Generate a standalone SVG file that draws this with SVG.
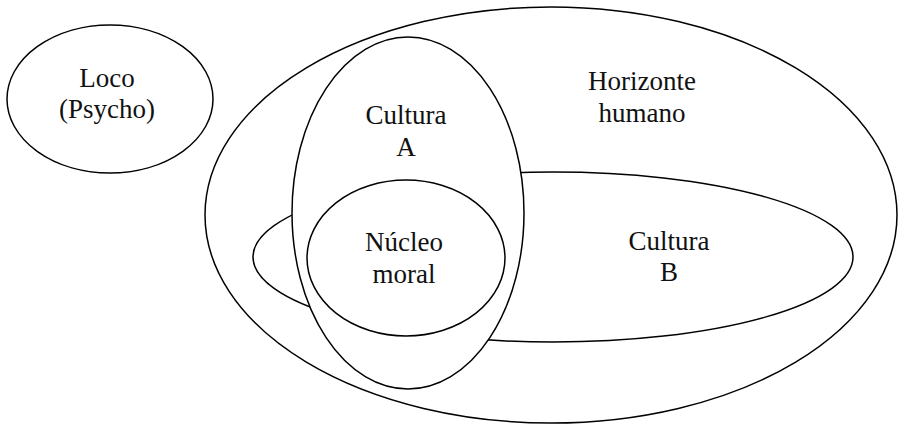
<svg xmlns="http://www.w3.org/2000/svg" width="898" height="428" viewBox="0 0 898 428">
<style>
.s{fill:#fff;stroke:#000;stroke-width:1.5}
.t{font-family:'Liberation Serif','Times New Roman','DejaVu Serif',serif;font-size:27px;fill:#111;text-anchor:middle}
</style>
<rect width="898" height="428" fill="#fff"/>
<g id="horizonte">
<ellipse class="s" cx="551" cy="215" rx="346" ry="208"/>
<text class="t" font-family="Liberation Serif, serif" x="642" y="90">Horizonte</text>
<text class="t" font-family="Liberation Serif, serif" x="642" y="122">humano</text>
</g>
<g id="culturaB">
<ellipse class="s" cx="553" cy="257" rx="300" ry="85"/>
<text class="t" font-family="Liberation Serif, serif" x="669" y="250">Cultura</text>
<text class="t" font-family="Liberation Serif, serif" x="669" y="281">B</text>
</g>
<g id="culturaA">
<ellipse class="s" cx="408" cy="213" rx="116" ry="176"/>
<text class="t" font-family="Liberation Serif, serif" x="406" y="124">Cultura</text>
<text class="t" font-family="Liberation Serif, serif" x="406" y="156">A</text>
</g>
<g id="nucleo">
<ellipse class="s" cx="406" cy="258" rx="99" ry="78"/>
<text class="t" font-family="Liberation Serif, serif" x="404" y="251">Núcleo</text>
<text class="t" font-family="Liberation Serif, serif" x="404" y="283">moral</text>
</g>
<g id="loco">
<ellipse class="s" cx="110" cy="99" rx="103" ry="74"/>
<text class="t" font-family="Liberation Serif, serif" x="107" y="87">Loco</text>
<text class="t" font-family="Liberation Serif, serif" x="107" y="118">(Psycho)</text>
</g>
<g id="connectors"></g>
</svg>
